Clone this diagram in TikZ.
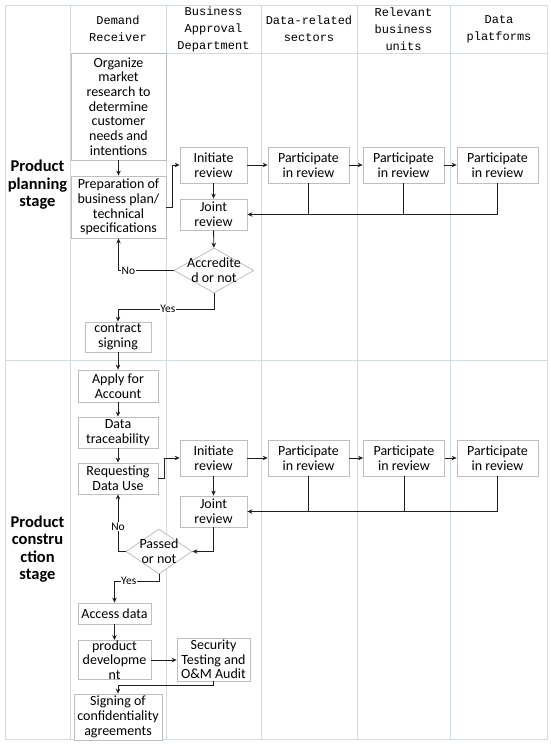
\documentclass[tikz,border=0pt]{standalone}
\usepackage{fontspec}
\setmainfont{Carlito}
\newfontfamily\headfont{Liberation Mono}
\usepackage{tikz}
\usetikzlibrary{arrows.meta,positioning,shapes.geometric,calc}
\definecolor{lanegray}{HTML}{CFDCE0}
\definecolor{boxgray}{HTML}{BEBEBE}
\definecolor{arrowink}{HTML}{1E1E1E}
\tikzset{
  taskbox/.style={
    draw=boxgray, fill=white, line width=0.8pt,
    align=center, inner sep=0pt,
    font=\fontsize{14}{14.7}\selectfont
  },
  decision/.style={
    draw=boxgray, fill=white, line width=0.8pt, diamond,
    inner sep=0pt
  },
  decisiontext/.style={
    align=center, inner sep=0pt,
    font=\fontsize{14}{14.7}\selectfont
  },
  flowline/.style={draw=arrowink, line width=0.9pt},
  flowarrow/.style={flowline, -{Stealth[length=5pt,width=4.5pt]}},
  branchlabel/.style={fill=white, inner sep=0.6pt, font=\fontsize{11.5}{12}\selectfont},
  lanehead/.style={align=center, inner sep=0pt, font=\headfont\fontsize{12}{17}\selectfont},
  stagelabel/.style={align=center, inner sep=0pt, font=\bfseries\fontsize{16.5}{17.5}\selectfont},
  laneline/.style={draw=lanegray, line width=0.9pt}
}
\begin{document}
\begin{tikzpicture}[x=1pt,y=-1pt]
  \useasboundingbox (0,0) rectangle (550,744);
  % lanes
  \draw[laneline] (5,5) rectangle (547,739);
  \foreach \lx in {70,166,261,357,450}
    \draw[laneline] (\lx,5) -- (\lx,739);
  \draw[laneline] (70,53) -- (547,53);
  \draw[laneline] (5,360) -- (547,360);
  \node[lanehead] (hdemand) at (118,29) {Demand\\Receiver};
  \node[lanehead] (happroval) at (213.5,29) {Business\\Approval\\Department};
  \node[lanehead] (hsectors) at (309,29) {Data-related\\sectors};
  \node[lanehead] (hunits) at (403.5,29) {Relevant\\business\\units};
  \node[lanehead] (hplatforms) at (499,29) {Data\\platforms};
  \node[stagelabel] (splanning) at (37.5,185) {Product\\planning\\stage};
  \node[stagelabel] (sconstruction) at (37.5,549) {Product\\constru\\ction\\stage};
  % planning stage
  \node[taskbox,minimum width=95,minimum height=107] (org) at (118.5,106.5) {Organize\\market\\research to\\determine\\customer\\needs and\\intentions};
  \node[taskbox,minimum width=95,minimum height=62] (prep) at (118.5,207) {Preparation of\\business plan/\\technical\\specifications};
  \node[taskbox,minimum width=67,minimum height=36] (initA) at (213.5,165) {Initiate\\review};
  \node[taskbox,minimum width=67,minimum height=31] (jointA) at (213.5,214.5) {Joint\\review};
  \foreach \n/\px in {1/308.5,2/403.5,3/497.5}
    \node[taskbox,minimum width=81,minimum height=36] (partA\n) at (\px,165) {Participate\\in review};
  \node[decision,minimum width=80,minimum height=45] (accr) at (214,270.5) {};
  \node[decisiontext] (accrtext) at (accr) {Accredite\\d or not};
  \coordinate (accrbend) at (118,309);
  \node[taskbox,minimum width=66,minimum height=30] (contract) at (118,337) {contract\\signing};
  % construction stage
  \node[taskbox,minimum width=80,minimum height=32] (apply) at (118,386) {Apply for\\Account};
  \node[taskbox,minimum width=80,minimum height=31] (trace) at (118,432.5) {Data\\traceability};
  \node[taskbox,minimum width=80,minimum height=31] (request) at (118,478.5) {Requesting\\Data Use};
  \node[taskbox,minimum width=67,minimum height=36] (initB) at (213.5,458) {Initiate\\review};
  \node[taskbox,minimum width=67,minimum height=31] (jointB) at (213.5,511.5) {Joint\\review};
  \foreach \n/\px in {1/308.5,2/404,3/497.5}
    \node[taskbox,minimum width=81,minimum height=36] (partB\n) at (\px,458) {Participate\\in review};
  \node[decision,minimum width=66,minimum height=45] (passed) at (159,551.5) {};
  \node[decisiontext] (passedtext) at (passed) {Passed\\or not};
  \coordinate (passedbend) at (114.5,581);
  \node[taskbox,minimum width=73,minimum height=21] (access) at (114.5,613.5) {Access data};
  \node[taskbox,minimum width=73,minimum height=36] (product) at (114.5,660) {product\\developme\\nt};
  \node[taskbox,minimum width=73,minimum height=43] (security) at (213.5,659.5) {Security\\Testing and\\O\&M Audit};
  \coordinate (securitybend) at (118,685);
  \node[taskbox,minimum width=88,minimum height=46] (signing) at (118,717) {Signing of\\confidentiality\\agreements};
  % connectors, planning
  \draw[flowarrow] (org) -- (prep);
  \draw[flowarrow] (prep.east) -- ++(6,0) |- (initA.west);
  \draw[flowarrow] (initA) -- (partA1);
  \draw[flowarrow] (partA1) -- (partA2);
  \draw[flowarrow] (partA2) -- (partA3);
  \draw[flowarrow] (initA) -- (jointA);
  \draw[flowarrow] (partA3.south) |- (jointA.east);
  \draw[flowline] (partA1.south) -- (partA1.south |- jointA.east);
  \draw[flowline] (partA2.south) -- (partA2.south |- jointA.east);
  \draw[flowarrow] (jointA) -- (accr);
  \draw[flowarrow] (accr.west) -| node[branchlabel,pos=0.41] {No} (prep.south);
  \draw[flowarrow] (accr.south) |- node[branchlabel,pos=0.74] {Yes} (accrbend) -- (contract.north);
  \draw[flowarrow] (contract) -- (apply);
  % connectors, construction
  \draw[flowarrow] (apply) -- (trace);
  \draw[flowarrow] (trace) -- (request);
  \draw[flowarrow] (request.east) -- ++(6,0) |- (initB.west);
  \draw[flowarrow] (initB) -- (partB1);
  \draw[flowarrow] (partB1) -- (partB2);
  \draw[flowarrow] (partB2) -- (partB3);
  \draw[flowarrow] (initB) -- (jointB);
  \draw[flowarrow] (partB3.south) |- (jointB.east);
  \draw[flowline] (partB1.south) -- (partB1.south |- jointB.east);
  \draw[flowline] (partB2.south) -- (partB2.south |- jointB.east);
  \draw[flowarrow] (jointB.south) |- (passed.east);
  \draw[flowarrow] (passed.west) -| node[branchlabel,pos=0.72] {No} (request.south);
  \draw[flowarrow] (passed.south) |- node[branchlabel,pos=0.84] {Yes} (passedbend) -- (access.north);
  \draw[flowarrow] (access) -- (product);
  \draw[flowarrow] (product.east) -- (product.east -| security.west);
  \draw[flowarrow] (security.south) |- (securitybend) -- (signing.north);
\end{tikzpicture}
\end{document}
